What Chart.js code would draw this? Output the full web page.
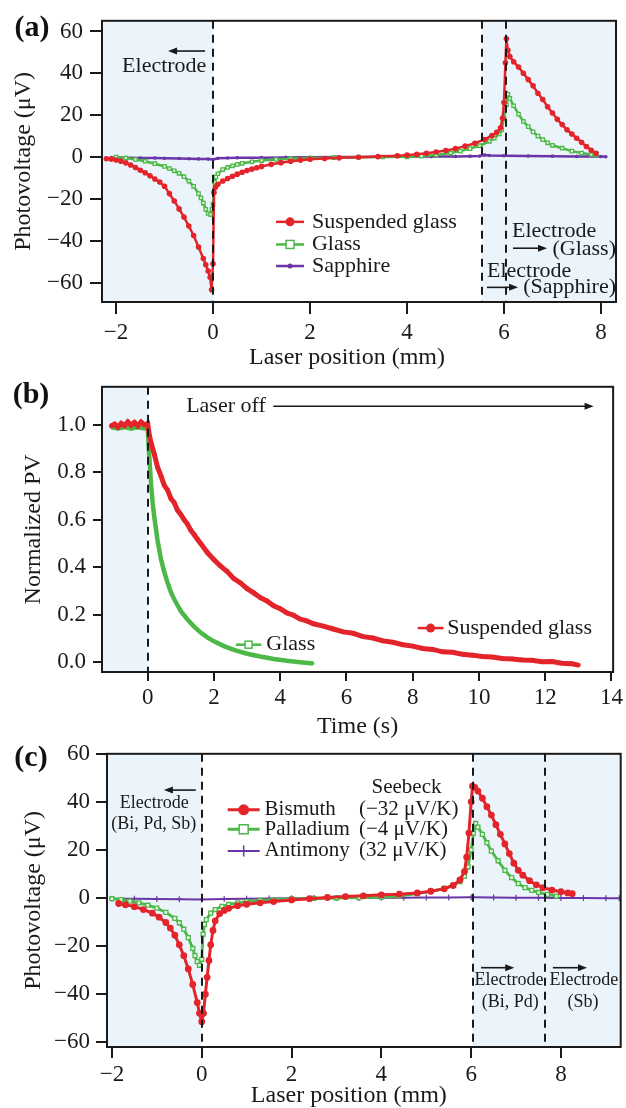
<!DOCTYPE html>
<html><head><meta charset="utf-8">
<script src="https://cdn.jsdelivr.net/npm/chart.js@4.4.1/dist/chart.umd.min.js"></script>
<style>
html,body{margin:0;padding:0;background:#fff;}
body{width:626px;height:1108px;position:relative;overflow:hidden;}
canvas{position:absolute;left:0;}
</style></head>
<body>
<canvas id="ca" width="626" height="380" style="top:0px"></canvas>
<canvas id="cb" width="626" height="380" style="top:366px"></canvas>
<canvas id="cc" width="626" height="374" style="top:734px"></canvas>
<script>
// ---------- Panel (a): photovoltage vs laser position ----------
const aXTicks = [-2, 0, 2, 4, 6, 8];
const aYTicks = [-60, -40, -20, 0, 20, 40, 60];
const aSuspended = [[-2.2,-0.8],[-2.1,-1.0],[-2.0,-1.4],[-1.9,-2.0],[-1.8,-2.8],[-1.7,-3.8],[-1.6,-5.0],[-1.5,-6.3],[-1.4,-7.5],[-1.3,-9.0],[-1.2,-10.5],[-1.1,-12.0],[-1.0,-14.0],[-0.9,-17.5],[-0.8,-21.0],[-0.7,-24.8],[-0.6,-28.7],[-0.5,-33.0],[-0.4,-37.5],[-0.3,-43.0],[-0.2,-48.5],[-0.15,-51.5],[-0.1,-54.5],[-0.06,-57.5],[-0.03,-63.5],[0.0,-51.0],[0.02,-17.0],[0.05,-14.5],[0.1,-13.0],[0.2,-11.5],[0.3,-10.3],[0.4,-9.2],[0.5,-8.2],[0.6,-7.3],[0.7,-6.5],[0.8,-5.8],[0.9,-5.1],[1.0,-4.5],[1.2,-3.5],[1.4,-2.7],[1.6,-2.0],[1.8,-1.5],[2.0,-1.1],[2.3,-0.7],[2.6,-0.4],[3.0,-0.1],[3.4,0.2],[3.8,0.6],[4.0,0.9],[4.2,1.3],[4.4,1.8],[4.6,2.4],[4.8,3.1],[5.0,4.0],[5.2,5.2],[5.4,6.6],[5.6,8.4],[5.75,10.2],[5.85,11.8],[5.93,14.0],[5.97,18.5],[6.0,26.0],[6.03,45.0],[6.05,56.5],[6.08,51.0],[6.12,48.0],[6.2,45.5],[6.3,43.0],[6.4,40.0],[6.5,37.0],[6.6,34.0],[6.7,30.5],[6.8,27.5],[6.9,24.0],[7.0,21.0],[7.1,18.0],[7.2,15.5],[7.3,13.0],[7.4,11.0],[7.5,9.0],[7.6,7.0],[7.7,5.0],[7.8,3.2],[7.9,1.8]];
const aGlass = [[-2.0,0.0],[-1.8,-0.5],[-1.6,-1.2],[-1.4,-2.0],[-1.2,-3.2],[-1.0,-4.5],[-0.9,-5.5],[-0.8,-6.6],[-0.7,-7.8],[-0.6,-9.4],[-0.5,-11.5],[-0.4,-14.0],[-0.3,-17.5],[-0.25,-19.5],[-0.2,-22.0],[-0.15,-25.0],[-0.1,-27.0],[-0.05,-27.5],[-0.02,-25.0],[0.0,-22.5],[0.03,-12.0],[0.06,-9.5],[0.1,-8.0],[0.2,-6.0],[0.3,-5.0],[0.4,-4.2],[0.5,-3.5],[0.6,-3.0],[0.8,-2.3],[1.0,-1.7],[1.3,-1.2],[1.6,-0.8],[2.0,-0.5],[2.5,-0.3],[3.0,-0.1],[3.5,0.0],[4.0,0.1],[4.3,0.4],[4.6,1.0],[4.9,1.9],[5.1,2.8],[5.3,4.0],[5.5,5.4],[5.7,7.5],[5.8,9.0],[5.9,11.0],[5.95,13.0],[6.0,18.5],[6.05,25.0],[6.08,30.0],[6.12,28.0],[6.2,24.5],[6.3,20.5],[6.4,17.0],[6.5,14.5],[6.6,12.0],[6.7,10.0],[6.8,8.3],[6.9,6.8],[7.0,5.6],[7.2,4.2],[7.4,2.8],[7.6,1.9],[7.8,1.2],[7.9,1.0]];
const aSapphire = [[-2.1,-0.3],[-1.8,-0.4],[-1.5,-0.5],[-1.2,-0.5],[-1.0,-0.6],[-0.7,-0.7],[-0.5,-0.8],[-0.3,-0.9],[-0.1,-1.0],[0.0,-1.2],[0.1,-0.6],[0.3,-0.5],[0.5,-0.4],[1.0,-0.3],[1.5,-0.2],[2.0,-0.1],[2.5,0.0],[3.0,0.0],[3.5,0.1],[4.0,0.1],[4.5,0.2],[5.0,0.3],[5.3,0.4],[5.5,0.5],[5.6,0.9],[5.7,0.7],[6.0,0.6],[6.5,0.5],[7.0,0.4],[7.5,0.3],[8.0,0.2],[8.1,0.1]];

// ---------- Panel (b): normalized PV vs time ----------
const bXTicks = [0, 2, 4, 6, 8, 10, 12, 14];
const bYTicks = [0.0, 0.2, 0.4, 0.6, 0.8, 1.0];
const bSuspended = [[-1.1,0.995],[-1.0,1.003],[-0.9,0.99],[-0.8,1.006],[-0.7,0.996],[-0.6,1.012],[-0.5,0.998],[-0.4,1.01],[-0.3,0.995],[-0.2,1.012],[-0.1,1.0],[0.0,1.005],[0.05,0.955],[0.1,0.925],[0.2,0.875],[0.3,0.82],[0.4,0.785],[0.5,0.745],[0.6,0.725],[0.7,0.69],[0.8,0.672],[0.9,0.64],[1.0,0.622],[1.1,0.6],[1.2,0.582],[1.3,0.556],[1.4,0.538],[1.5,0.518],[1.6,0.5],[1.8,0.462],[2.0,0.432],[2.2,0.405],[2.4,0.382],[2.6,0.352],[2.8,0.334],[3.0,0.31],[3.2,0.292],[3.4,0.272],[3.6,0.258],[3.8,0.238],[4.0,0.226],[4.2,0.208],[4.4,0.198],[4.6,0.182],[4.8,0.174],[5.0,0.162],[5.3,0.152],[5.6,0.14],[5.9,0.128],[6.2,0.122],[6.5,0.108],[6.8,0.102],[7.1,0.09],[7.4,0.084],[7.7,0.074],[8.0,0.068],[8.3,0.058],[8.6,0.054],[8.9,0.044],[9.2,0.042],[9.5,0.034],[9.8,0.03],[10.1,0.024],[10.4,0.022],[10.7,0.016],[11.0,0.014],[11.3,0.01],[11.6,0.008],[11.9,0.002],[12.2,0.003],[12.5,-0.004],[12.8,-0.006],[13.0,-0.012]];
const bGlass = [[-1.1,0.99],[-0.9,0.985],[-0.7,0.99],[-0.5,0.984],[-0.3,0.99],[-0.1,0.985],[0.0,0.99],[0.02,0.93],[0.05,0.86],[0.1,0.75],[0.15,0.67],[0.2,0.61],[0.3,0.51],[0.4,0.435],[0.5,0.38],[0.6,0.335],[0.7,0.295],[0.8,0.265],[0.9,0.24],[1.0,0.215],[1.2,0.18],[1.4,0.15],[1.6,0.125],[1.8,0.105],[2.0,0.088],[2.3,0.068],[2.6,0.052],[3.0,0.036],[3.4,0.024],[3.8,0.014],[4.2,0.006],[4.6,0.0],[5.0,-0.005]];

// ---------- Panel (c): photovoltage for Bi, Pd, Sb ----------
const cXTicks = [-2, 0, 2, 4, 6, 8];
const cYTicks = [-60, -40, -20, 0, 20, 40, 60];
const cBismuth = [[-1.85,-2.3],[-1.7,-2.8],[-1.5,-3.6],[-1.3,-4.8],[-1.1,-6.3],[-0.95,-8.0],[-0.8,-10.2],[-0.7,-12.5],[-0.6,-15.5],[-0.5,-19.5],[-0.4,-24.0],[-0.3,-29.5],[-0.2,-36.0],[-0.1,-43.5],[-0.05,-48.0],[0.0,-51.5],[0.04,-48.0],[0.08,-40.0],[0.12,-33.0],[0.16,-26.0],[0.2,-19.5],[0.25,-13.5],[0.3,-9.5],[0.4,-6.5],[0.5,-5.2],[0.6,-4.3],[0.8,-3.2],[1.0,-2.6],[1.3,-2.0],[1.6,-1.5],[2.0,-0.8],[2.4,-0.3],[2.8,0.2],[3.2,0.6],[3.6,0.9],[4.0,1.3],[4.4,1.6],[4.8,2.1],[5.1,2.8],[5.4,3.8],[5.6,5.2],[5.75,7.5],[5.85,11.0],[5.9,17.0],[5.95,27.0],[6.0,40.0],[6.03,46.5],[6.08,46.0],[6.15,44.5],[6.25,41.5],[6.35,38.0],[6.45,34.5],[6.55,30.5],[6.65,26.5],[6.75,22.5],[6.85,18.5],[6.95,14.5],[7.05,11.5],[7.15,9.5],[7.3,7.2],[7.45,5.5],[7.6,4.3],[7.8,3.3],[8.0,2.6],[8.15,2.1],[8.25,1.8]];
const cPalladium = [[-2.0,-0.3],[-1.8,-0.7],[-1.6,-1.3],[-1.4,-2.0],[-1.2,-3.0],[-1.0,-4.2],[-0.8,-6.0],[-0.6,-8.5],[-0.5,-10.3],[-0.4,-13.0],[-0.3,-16.5],[-0.2,-21.0],[-0.15,-24.0],[-0.1,-26.5],[-0.05,-28.0],[0.0,-25.5],[0.03,-15.0],[0.06,-11.0],[0.1,-9.0],[0.2,-6.3],[0.3,-4.8],[0.45,-3.5],[0.6,-2.7],[0.8,-2.0],[1.0,-1.5],[1.3,-1.0],[1.6,-0.7],[2.0,-0.4],[2.5,-0.2],[3.0,0.0],[3.5,0.2],[4.0,0.4],[4.4,0.8],[4.8,1.8],[5.1,2.8],[5.4,4.0],[5.6,5.3],[5.75,6.8],[5.85,9.0],[5.93,13.0],[6.0,20.0],[6.05,27.0],[6.1,31.0],[6.15,29.5],[6.25,26.5],[6.35,23.0],[6.45,19.5],[6.6,15.5],[6.75,11.5],[6.9,8.5],[7.05,6.0],[7.2,4.3],[7.35,3.2],[7.5,2.3],[7.7,1.5],[7.9,0.8]];
const cAntimony = [[-2.0,-0.3],[-1.5,-0.3],[-1.0,-0.4],[-0.5,-0.5],[0.0,-0.6],[0.5,-0.4],[1.0,-0.3],[1.5,-0.2],[2.0,-0.1],[2.5,0.0],[3.0,0.0],[3.5,0.0],[4.0,0.1],[4.5,0.1],[5.0,0.2],[5.5,0.2],[6.0,0.3],[6.5,0.2],[7.0,0.1],[7.5,0.1],[8.0,0.0],[8.5,0.0],[9.0,-0.1],[9.3,-0.1]];

const FONT = "'Liberation Serif','Times New Roman',serif";
const RED = '#e3242b', GREEN = '#4cb848', PURPLE = '#6a35a6', SHADE = '#ebf4fb', INK = '#1a1a1a';

function pts(arr){ return arr.map(p => ({x:p[0], y:p[1]})); }
function minus(s){ return String(s).replace('-', '\u2212'); }

function drawMarker(ctx, style, x, y, r, color, fill){
  ctx.save();
  ctx.strokeStyle = color; ctx.fillStyle = fill || color; ctx.lineWidth = 1.5;
  if (style === 'circle'){ ctx.beginPath(); ctx.arc(x, y, r, 0, Math.PI*2); ctx.fill(); }
  else if (style === 'rect'){ ctx.fillRect(x-r, y-r, 2*r, 2*r); ctx.strokeRect(x-r, y-r, 2*r, 2*r); }
  else if (style === 'cross'){ ctx.beginPath(); ctx.moveTo(x-r, y); ctx.lineTo(x+r, y); ctx.moveTo(x, y-r); ctx.lineTo(x, y+r); ctx.stroke(); }
  ctx.restore();
}
function drawArrow(ctx, x1, y, x2){
  const dir = x2 > x1 ? 1 : -1;
  ctx.save(); ctx.strokeStyle = INK; ctx.fillStyle = INK; ctx.lineWidth = 1.6;
  ctx.beginPath(); ctx.moveTo(x1, y); ctx.lineTo(x2 - dir*6, y); ctx.stroke();
  ctx.beginPath(); ctx.moveTo(x2, y); ctx.lineTo(x2 - dir*9, y-3.5); ctx.lineTo(x2 - dir*9, y+3.5); ctx.closePath(); ctx.fill();
  ctx.restore();
}

function deco(p){
  return {
    id: 'deco',
    beforeDatasetsDraw(chart){
      const {ctx, chartArea:a, scales:{x}} = chart;
      ctx.save(); ctx.fillStyle = SHADE;
      p.shade.forEach(([x1, x2]) => {
        const l = Math.max(a.left, x.getPixelForValue(x1));
        const r = Math.min(a.right, x.getPixelForValue(x2));
        ctx.fillRect(l, a.top, r - l, a.bottom - a.top);
      });
      ctx.restore();
    },
    afterDatasetsDraw(chart){
      const {ctx, chartArea:a, scales:{x}} = chart;
      ctx.save();
      ctx.strokeStyle = INK; ctx.lineWidth = 2; ctx.setLineDash([8, 6]);
      p.dashes.forEach(v => {
        const px = Math.round(x.getPixelForValue(v));
        ctx.beginPath(); ctx.moveTo(px, a.top); ctx.lineTo(px, a.bottom); ctx.stroke();
      });
      ctx.setLineDash([]);
      ctx.strokeRect(a.left, a.top, a.right - a.left, a.bottom - a.top);
      ctx.restore();
    },
    afterDraw(chart){
      const {ctx, scales:{x, y}} = chart;
      ctx.save();
      ctx.fillStyle = INK; ctx.textBaseline = 'middle';
      p.texts.forEach(t => {
        ctx.font = (t.size || 21) + 'px ' + FONT;
        ctx.textAlign = t.align || 'left';
        ctx.fillText(t.t, x.getPixelForValue(t.x), y.getPixelForValue(t.y));
      });
      p.arrows.forEach(r => drawArrow(ctx, x.getPixelForValue(r.x1), y.getPixelForValue(r.y), x.getPixelForValue(r.x2)));
      p.legend.forEach(l => {
        const x1 = x.getPixelForValue(l.x1), x2 = x.getPixelForValue(l.x2), py = y.getPixelForValue(l.y);
        ctx.save(); ctx.strokeStyle = l.color; ctx.lineWidth = l.lw || 2.5;
        ctx.beginPath(); ctx.moveTo(x1, py); ctx.lineTo(x2, py); ctx.stroke(); ctx.restore();
        drawMarker(ctx, l.marker, (x1 + x2)/2, py, l.r, l.color, l.fill);
        ctx.fillStyle = INK; ctx.textAlign = 'left'; ctx.font = (l.size || 22) + 'px ' + FONT;
        ctx.fillText(l.text, x.getPixelForValue(l.tx), py);
      });
      ctx.font = 'bold 30px ' + FONT; ctx.textAlign = 'center'; ctx.fillStyle = '#111';
      ctx.fillText(p.label, p.labelX, p.labelY);
      ctx.restore();
    }
  };
}

function makeChart(id, p){
  return new Chart(document.getElementById(id), {
    type: 'line',
    data: { datasets: p.datasets },
    options: {
      responsive: false, animation: false, devicePixelRatio: 1,
      layout: { padding: { left: 0, right: p.padR, top: 14, bottom: 0 } },
      plugins: { legend: { display: false }, tooltip: { enabled: false } },
      elements: { line: { tension: 0 } },
      scales: {
        x: {
          type: 'linear', min: p.xMin, max: p.xMax,
          afterFit: s => { s.height = p.xH; },
          afterBuildTicks: s => { s.ticks = p.xTicks.map(v => ({value: v})); },
          grid: { drawOnChartArea: false, drawTicks: true, tickLength: p.tl, color: INK, lineWidth: 2 },
          border: { display: false },
          ticks: { padding: p.xPad, color: INK, font: { family: FONT, size: 23 }, maxRotation: 0, autoSkip: false, callback: v => minus(v) },
          title: { display: true, text: p.xTitle, color: INK, font: { family: FONT, size: 24, lineHeight: 1 }, padding: { top: 0, bottom: p.xTitleB } }
        },
        y: {
          type: 'linear', min: p.yMin, max: p.yMax,
          afterFit: s => { s.width = p.yW; },
          afterBuildTicks: s => { s.ticks = p.yTicks.map(v => ({value: v})); },
          grid: { drawOnChartArea: false, drawTicks: true, tickLength: p.tl, color: INK, lineWidth: 2 },
          border: { display: false },
          ticks: { padding: p.yPad, color: INK, font: { family: FONT, size: 23 }, autoSkip: false, callback: p.yFmt },
          title: { display: true, text: p.yTitle, color: INK, font: { family: FONT, size: 24, lineHeight: 1 }, padding: { top: p.yTitleT, bottom: 0 } }
        }
      }
    },
    plugins: [deco(p)]
  });
}

// Panel (a)
makeChart('ca', {
  xMin: -2.29, xMax: 8.31, yMin: -69.3, yMax: 65.1, xTicks: aXTicks, yTicks: aYTicks,
  padR: 10, yW: 102, xH: 78, tl: 12, xPad: 5, yPad: 7, xTitleB: 10, yTitleT: 12,
  xTitle: 'Laser position (mm)\u2003', yTitle: 'Photovoltage (\u03bcV)', yFmt: v => minus(v),
  shade: [[-2.29, 0], [5.55, 8.31]], dashes: [0, 5.55, 6.05],
  label: '(a)', labelX: 32, labelY: 28,
  datasets: [
    { data: pts(aSuspended), borderColor: RED, backgroundColor: RED, borderWidth: 2.5, pointRadius: 2.8, pointStyle: 'circle', pointBorderWidth: 0 },
    { data: pts(aGlass), borderColor: GREEN, backgroundColor: '#e9f6e6', borderWidth: 2.5, pointRadius: 2.4, pointStyle: 'rect', pointBorderWidth: 1.3 },
    { data: pts(aSapphire), borderColor: PURPLE, backgroundColor: PURPLE, borderWidth: 2.5, pointRadius: 1.8, pointStyle: 'circle', pointBorderWidth: 0 }
  ],
  texts: [
    { x: -1.876, y: 43.6, t: 'Electrode', size: 22 },
    { x: 6.165, y: -35.7, t: 'Electrode', size: 22 },
    { x: 8.31, y: -44.1, t: '(Glass)', align: 'right', size: 22 },
    { x: 5.65, y: -54.4, t: 'Electrode', size: 22 },
    { x: 8.31, y: -62.3, t: '(Sapphire)', align: 'right', size: 22 }
  ],
  arrows: [ { x1: -0.165, x2: -0.928, y: 50.65 }, { x1: 6.186, x2: 6.887, y: -43.6 }, { x1: 5.65, x2: 6.29, y: -62.3 } ],
  legend: [
    { x1: 1.30, x2: 1.876, y: -31.0, tx: 2.04, text: 'Suspended glass', color: RED, marker: 'circle', r: 4.5 },
    { x1: 1.30, x2: 1.876, y: -41.8, tx: 2.04, text: 'Glass', color: GREEN, marker: 'rect', r: 4, fill: '#ffffff' },
    { x1: 1.30, x2: 1.876, y: -52.1, tx: 2.04, text: 'Sapphire', color: PURPLE, marker: 'circle', r: 2.5 }
  ]
});

// Panel (b)
makeChart('cb', {
  xMin: -1.38, xMax: 14.05, yMin: -0.041, yMax: 1.16, xTicks: bXTicks, yTicks: bYTicks,
  padR: 8, yW: 102, xH: 74, tl: 9, xPad: 3, yPad: 7, xTitleB: 7, yTitleT: 22,
  xTitle: 'Time (s)', yTitle: 'Normalized PV', yFmt: v => Number(v).toFixed(1),
  shade: [[-1.38, 0]], dashes: [0],
  label: '(b)', labelX: 31, labelY: 29,
  datasets: [
    { data: pts(bSuspended), borderColor: RED, backgroundColor: RED, borderWidth: 5, pointRadius: 2.4, pointStyle: 'circle', pointBorderWidth: 0 },
    { data: pts(bGlass), borderColor: GREEN, backgroundColor: GREEN, borderWidth: 4.5, pointRadius: 1.5, pointStyle: 'rect', pointBorderWidth: 0 }
  ],
  texts: [ { x: 1.16, y: 1.078, t: 'Laser off', size: 22 } ],
  arrows: [ { x1: 3.79, x2: 13.46, y: 1.078 } ],
  legend: [
    { x1: 2.66, x2: 3.43, y: 0.074, tx: 3.58, text: 'Glass', color: GREEN, marker: 'rect', r: 3.5, fill: '#ffffff' },
    { x1: 8.15, x2: 8.93, y: 0.144, tx: 9.04, text: 'Suspended glass', color: RED, marker: 'circle', r: 4.5 }
  ]
});

// Panel (c)
makeChart('cc', {
  xMin: -2.11, xMax: 9.33, yMin: -62, yMax: 60, xTicks: cXTicks, yTicks: cYTicks,
  padR: 4, yW: 107, xH: 61, tl: 11, xPad: 3, yPad: 6, xTitleB: 0, yTitleT: 22,
  xTitle: 'Laser position (mm)\u2003\u2005', yTitle: 'Photovoltage (\u03bcV)', yFmt: v => minus(v),
  shade: [[-2.11, 0], [6.03, 9.33]], dashes: [0, 6.03, 7.64],
  label: '(c)', labelX: 31, labelY: 24,
  datasets: [
    { data: pts(cBismuth), borderColor: RED, backgroundColor: RED, borderWidth: 3, pointRadius: 3.4, pointStyle: 'circle', pointBorderWidth: 0 },
    { data: pts(cPalladium), borderColor: GREEN, backgroundColor: '#e9f6e6', borderWidth: 2.8, pointRadius: 2.8, pointStyle: 'rect', pointBorderWidth: 1.3 },
    { data: pts(cAntimony), borderColor: PURPLE, backgroundColor: PURPLE, borderWidth: 2, pointRadius: 3, pointStyle: 'cross', pointBorderWidth: 1.2 }
  ],
  texts: [
    { x: -1.056, y: 39.6, t: 'Electrode', align: 'center', size: 18 },
    { x: -1.07, y: 30.6, t: '(Bi, Pd, Sb)', align: 'center', size: 18 },
    { x: 6.84, y: -34.3, t: 'Electrode', align: 'center', size: 18 },
    { x: 6.87, y: -43.3, t: '(Bi, Pd)', align: 'center', size: 18 },
    { x: 8.51, y: -34.3, t: 'Electrode', align: 'center', size: 18 },
    { x: 8.49, y: -43.3, t: '(Sb)', align: 'center', size: 18 },
    { x: 4.56, y: 46.1, t: 'Seebeck', align: 'center', size: 21 },
    { x: 3.5, y: 36.7, t: '(\u221232 \u03bcV/K)', size: 21 },
    { x: 3.5, y: 28.6, t: '(\u22124 \u03bcV/K)', size: 21 },
    { x: 3.5, y: 19.6, t: '(32 \u03bcV/K)', size: 21 }
  ],
  arrows: [ { x1: -0.133, x2: -0.844, y: 44.9 }, { x1: 6.22, x2: 6.96, y: -29 }, { x1: 7.82, x2: 8.58, y: -29 } ],
  legend: [
    { x1: 0.578, x2: 1.29, y: 36.7, tx: 1.4, text: 'Bismuth', color: RED, marker: 'circle', r: 5.5, size: 21, lw: 3 },
    { x1: 0.578, x2: 1.29, y: 28.6, tx: 1.4, text: 'Palladium', color: GREEN, marker: 'rect', r: 4.5, fill: '#ffffff', size: 21, lw: 3 },
    { x1: 0.578, x2: 1.29, y: 19.6, tx: 1.4, text: 'Antimony', color: PURPLE, marker: 'cross', r: 5.5, size: 21, lw: 2 }
  ]
});
</script>
</body></html>
